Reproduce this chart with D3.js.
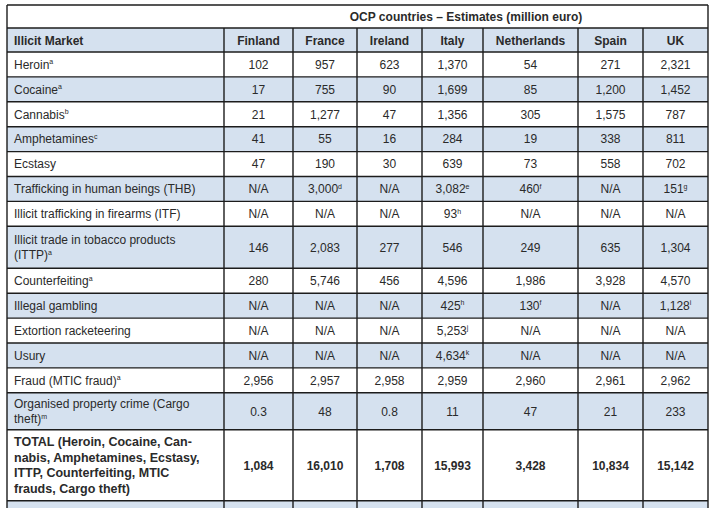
<!DOCTYPE html>
<html>
<head>
<meta charset="utf-8">
<script src="https://cdn.jsdelivr.net/npm/d3@7/dist/d3.min.js"></script>
<style>
  html, body { margin: 0; padding: 0; background: #fff; }
  svg { display: block; }
  text { font-family: "Liberation Sans", Arial, sans-serif; fill: #2a2a2a; }
</style>
</head>
<body>
<svg id="chart" width="714" height="508"></svg>
<script>
// ---------- DATA ----------
const title = "OCP countries \u2013 Estimates (million euro)";
const headerLabel = "Illicit Market";
const countries = ["Finland", "France", "Ireland", "Italy", "Netherlands", "Spain", "UK"];

const markets = [
  ["Heroin"], ["Cocaine"], ["Cannabis"], ["Amphetamines"], ["Ecstasy"],
  ["Trafficking in human beings (THB)"], ["Illicit trafficking in firearms (ITF)"],
  ["Illicit trade in tobacco products", "(ITTP)"], ["Counterfeiting"], ["Illegal gambling"],
  ["Extortion racketeering"], ["Usury"], ["Fraud (MTIC fraud)"],
  ["Organised property crime (Cargo", "theft)"],
  ["TOTAL (Heroin, Cocaine, Can-", "nabis, Amphetamines, Ecstasy,", "ITTP, Counterfeiting, MTIC", "frauds, Cargo theft)"]
];
const marketNotes = ["a", "a", "b", "c", "", "", "", "a", "a", "", "", "", "a", "m", ""];

const finland     = ["102", "17", "21", "41", "47", "N/A", "N/A", "146", "280", "N/A", "N/A", "N/A", "2,956", "0.3", "1,084"];
const france      = ["957", "755", "1,277", "55", "190", "3,000", "N/A", "2,083", "5,746", "N/A", "N/A", "N/A", "2,957", "48", "16,010"];
const ireland     = ["623", "90", "47", "16", "30", "N/A", "N/A", "277", "456", "N/A", "N/A", "N/A", "2,958", "0.8", "1,708"];
const italy       = ["1,370", "1,699", "1,356", "284", "639", "3,082", "93", "546", "4,596", "425", "5,253", "4,634", "2,959", "11", "15,993"];
const netherlands = ["54", "85", "305", "19", "73", "460", "N/A", "249", "1,986", "130", "N/A", "N/A", "2,960", "47", "3,428"];
const spain       = ["271", "1,200", "1,575", "338", "558", "N/A", "N/A", "635", "3,928", "N/A", "N/A", "N/A", "2,961", "21", "10,834"];
const uk          = ["2,321", "1,452", "787", "811", "702", "151", "N/A", "1,304", "4,570", "1,128", "N/A", "N/A", "2,962", "233", "15,142"];

const franceNotes      = ["", "", "", "", "", "d", "", "", "", "", "", "", "", "", ""];
const italyNotes       = ["", "", "", "", "", "e", "h", "", "", "h", "j", "k", "", "", ""];
const netherlandsNotes = ["", "", "", "", "", "f", "", "", "", "f", "", "", "", "", ""];
const ukNotes          = ["", "", "", "", "", "g", "", "", "", "i", "", "", "", "", ""];
const emptyNotes       = markets.map(() => "");

const values = [finland, france, ireland, italy, netherlands, spain, uk];
const notes  = [emptyNotes, franceNotes, emptyNotes, italyNotes, netherlandsNotes, emptyNotes, ukNotes];

// ---------- LAYOUT ----------
const svg = d3.select("#chart");
const X0 = 7, X1 = 708, Y0 = 5;
const firstColW = 217;
const colWidths = [69, 64, 65, 61, 95, 65, 65];
const titleH = 23, headerH = 24, lineH = 15.5;
const rowHeights = markets.map((m, i) => m.length === 1 ? 24.9 : (m.length === 2 ? (i === 7 ? 42 : 37) : 71));
const fillBlue = "#d5e1ef";
const stroke = "#1c1c1c";

// column x positions
const colX = [X0 + firstColW];
colWidths.forEach((w, i) => colX.push(colX[i] + w));
const xCol = d3.scaleOrdinal().domain(countries).range(colX.slice(0, -1));
const wCol = d3.scaleOrdinal().domain(countries).range(colWidths);

// row y positions
const rowY = [Y0 + titleH + headerH];
rowHeights.forEach((h, i) => rowY.push(rowY[i] + h));
const yRow = d3.scaleOrdinal().domain(d3.range(markets.length)).range(rowY);

const g = svg.append("g");

// header row background
g.append("rect").attr("x", X0).attr("y", Y0 + titleH).attr("width", X1 - X0).attr("height", headerH).attr("fill", fillBlue);
// data rows (odd index = blue)
g.selectAll("rect.row").data(markets).join("rect").attr("class", "row")
  .attr("x", X0).attr("y", (d, i) => yRow(i)).attr("width", X1 - X0)
  .attr("height", (d, i) => rowHeights[i])
  .attr("fill", (d, i) => i % 2 === 1 ? fillBlue : "#fff");
// trailing row (cut off)
const lastY = rowY[rowY.length - 1];
g.append("rect").attr("x", X0).attr("y", lastY).attr("width", X1 - X0).attr("height", 30).attr("fill", fillBlue);

// grid lines
const lines = g.append("g").attr("stroke", stroke).attr("stroke-width", 1.4).attr("fill", "none");
lines.append("line").attr("x1", X0).attr("x2", X1).attr("y1", Y0).attr("y2", Y0);
const hYs = [Y0 + titleH].concat(rowY);
lines.selectAll("line.h").data(hYs).join("line").attr("class", "h")
  .attr("x1", X0).attr("x2", X1).attr("y1", d => d).attr("y2", d => d);
lines.append("line").attr("x1", X0).attr("x2", X0).attr("y1", Y0).attr("y2", 520);
lines.append("line").attr("x1", X1).attr("x2", X1).attr("y1", Y0).attr("y2", 520);
lines.selectAll("line.v").data(colX.slice(0, -1)).join("line").attr("class", "v")
  .attr("x1", d => d).attr("x2", d => d).attr("y1", Y0 + titleH).attr("y2", 520);

// title
g.append("text").attr("x", (colX[0] + X1) / 2).attr("y", Y0 + titleH / 2 + 4.5)
  .attr("text-anchor", "middle").attr("font-size", 12).attr("font-weight", "bold").text(title);

// header
g.append("text").attr("x", X0 + 7).attr("y", Y0 + titleH + headerH / 2 + 4.5)
  .attr("font-size", 12).attr("font-weight", "bold").text(headerLabel);
g.selectAll("text.hdr").data(countries).join("text").attr("class", "hdr")
  .attr("x", d => xCol(d) + wCol(d) / 2).attr("y", Y0 + titleH + headerH / 2 + 4.5)
  .attr("text-anchor", "middle").attr("font-size", 12).attr("font-weight", "bold").text(d => d);

// market labels
const isTotal = i => i === markets.length - 1;
markets.forEach((m, i) => {
  const cy = yRow(i) + rowHeights[i] / 2;
  const t = g.append("text").attr("x", X0 + 7).attr("font-size", isTotal(i) ? 12.5 : 12)
    .attr("font-weight", isTotal(i) ? "bold" : "normal");
  m.forEach((line, k) => {
    const y = cy + (k - (m.length - 1) / 2) * lineH + 4.3;
    t.append("tspan").attr("x", X0 + 7).attr("y", y).text(line);
    if (k === m.length - 1 && marketNotes[i]) {
      t.append("tspan").attr("font-size", 7).attr("dy", -4.5).text(marketNotes[i]);
    }
  });
});

// values
countries.forEach((c, ci) => {
  values[ci].forEach((v, i) => {
    const cy = yRow(i) + rowHeights[i] / 2 + 4.3;
    const t = g.append("text").attr("x", xCol(c) + wCol(c) / 2).attr("y", cy)
      .attr("text-anchor", "middle").attr("font-size", 12)
      .attr("font-weight", isTotal(i) ? "bold" : "normal");
    t.append("tspan").text(v);
    if (notes[ci][i]) t.append("tspan").attr("font-size", 7).attr("dy", -4.5).text(notes[ci][i]);
  });
});
</script>
</body>
</html>
